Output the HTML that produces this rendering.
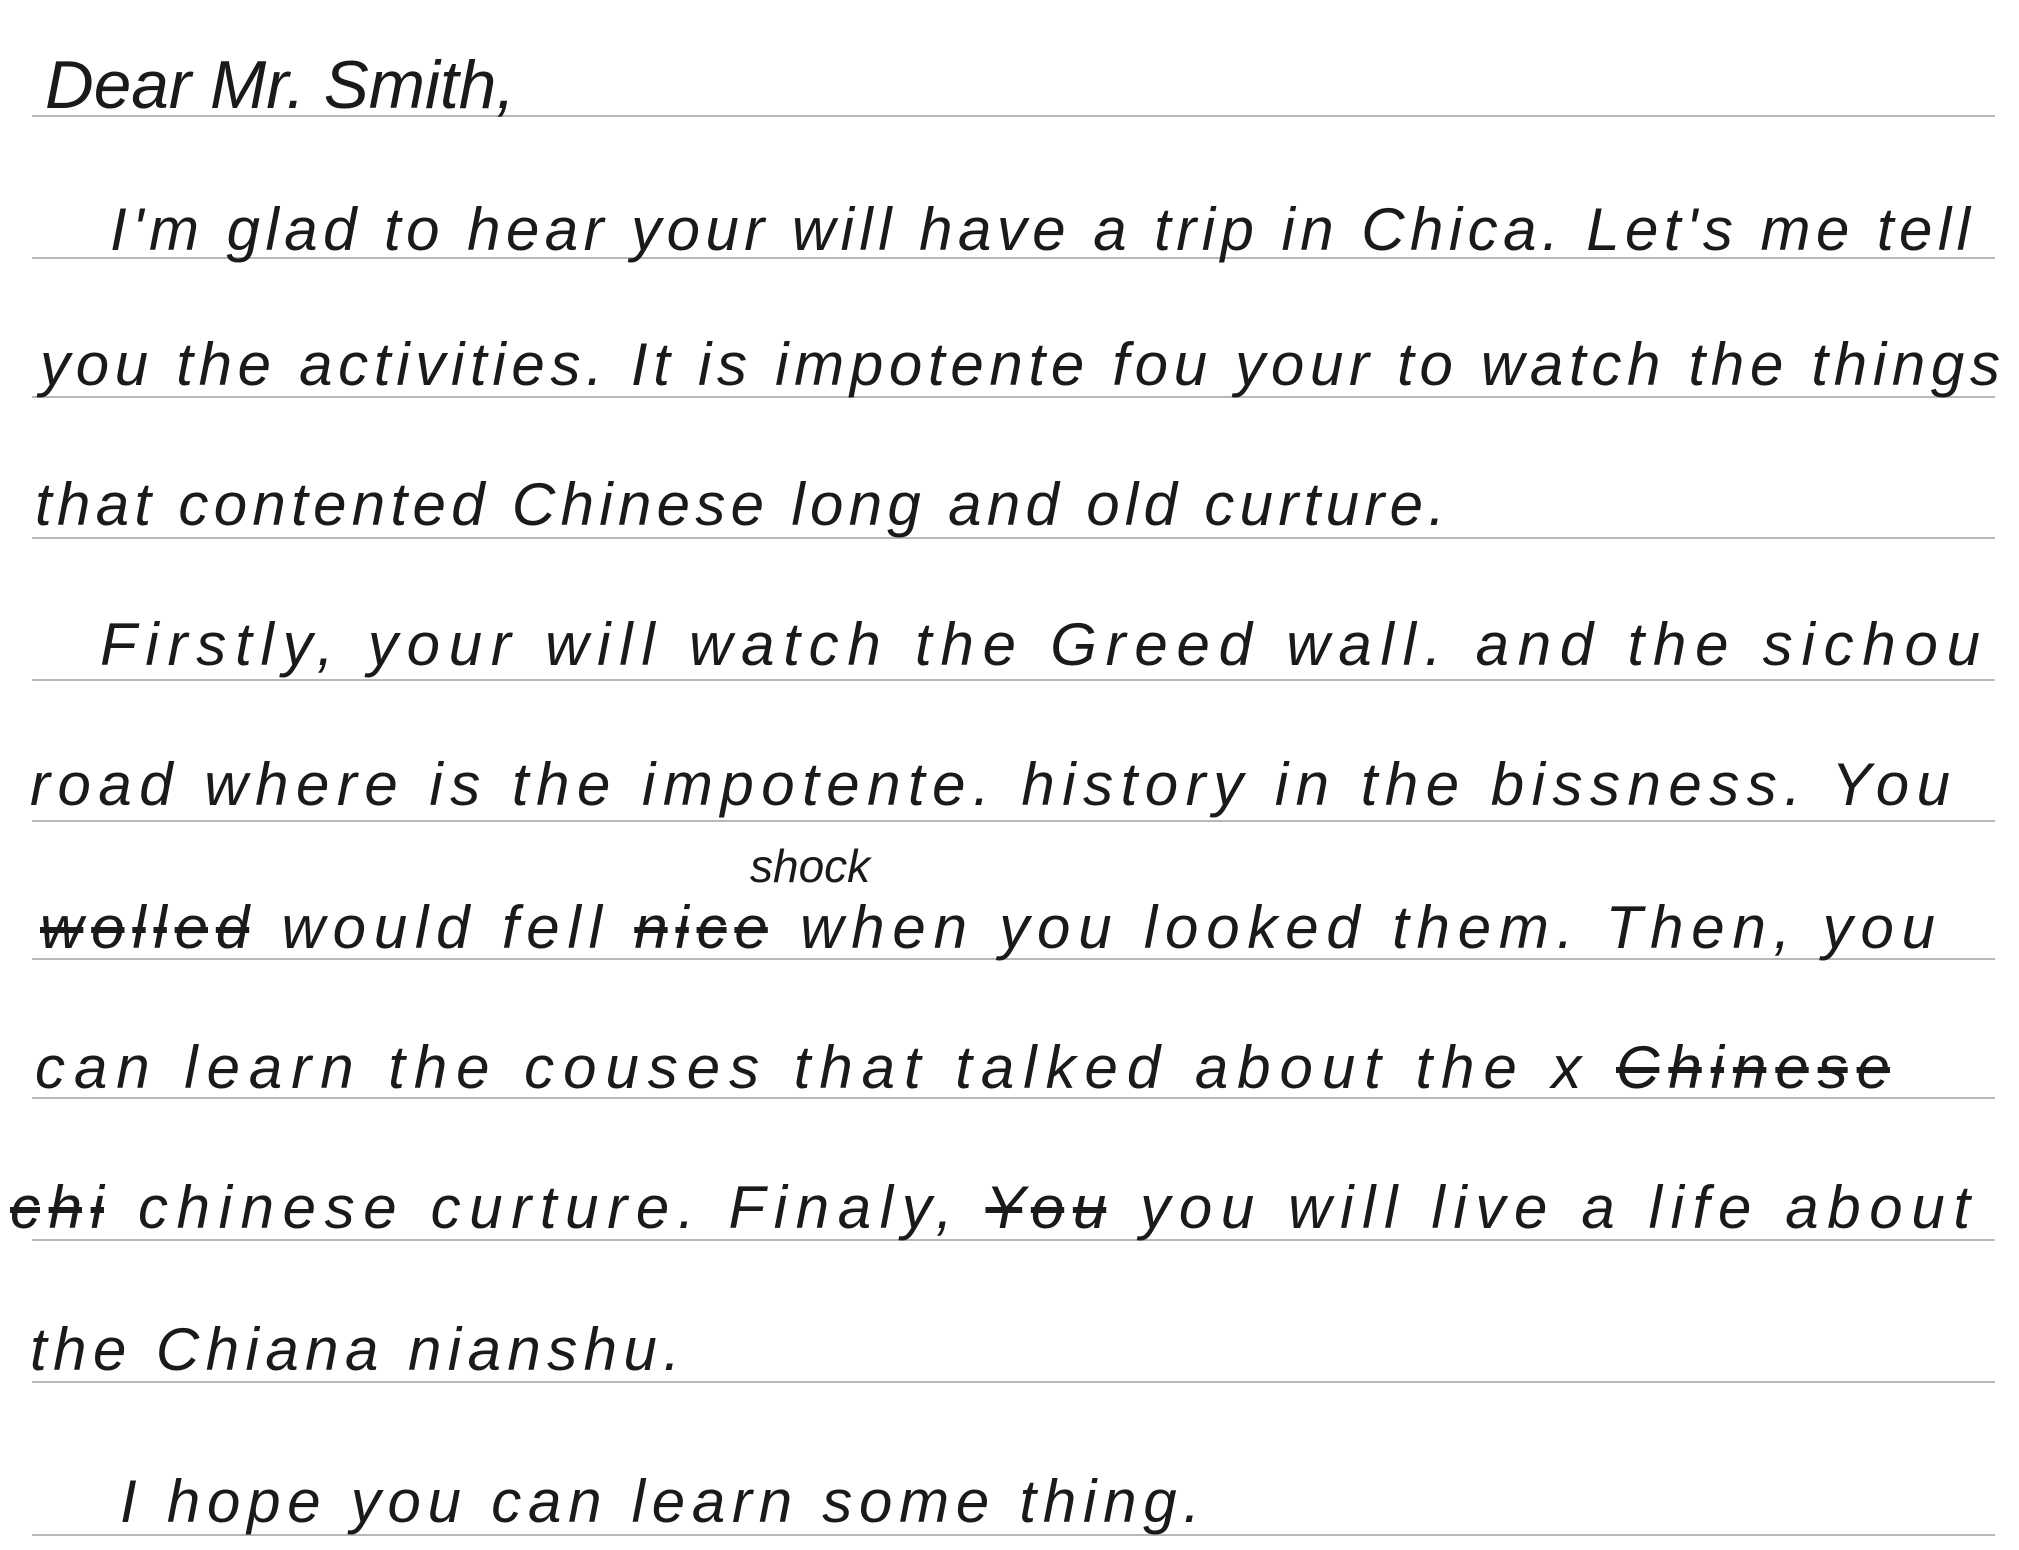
<!DOCTYPE html>
<html><head><meta charset="utf-8"><style>
html,body{margin:0;padding:0;background:#fff;}
svg{display:block;}
text{font-family:"Liberation Sans",sans-serif;font-style:italic;font-size:60px;fill:#1a1a1a;}
.s{text-decoration:line-through;}
</style></head><body>
<svg width="2019" height="1550" viewBox="0 0 2019 1550">
<g stroke="#b8b8b8" stroke-width="2">
<line x1="32" y1="116" x2="1995" y2="116"/>
<line x1="32" y1="258" x2="1995" y2="258"/>
<line x1="32" y1="397" x2="1995" y2="397"/>
<line x1="32" y1="538" x2="1995" y2="538"/>
<line x1="32" y1="680" x2="1995" y2="680"/>
<line x1="32" y1="821" x2="1995" y2="821"/>
<line x1="32" y1="959" x2="1995" y2="959"/>
<line x1="32" y1="1098" x2="1995" y2="1098"/>
<line x1="32" y1="1240" x2="1995" y2="1240"/>
<line x1="32" y1="1382" x2="1995" y2="1382"/>
<line x1="32" y1="1535" x2="1995" y2="1535"/>
</g>
<text x="45" y="108" textLength="470" lengthAdjust="spacingAndGlyphs" style="font-size:68px">Dear Mr. Smith,</text>
<text x="110" y="250" textLength="1860" lengthAdjust="spacing">I'm glad to hear your will have a trip in Chica. Let's me tell</text>
<text x="40" y="385" textLength="1960" lengthAdjust="spacing">you the activities. It is impotente fou your to watch the things</text>
<text x="35" y="525" textLength="1410" lengthAdjust="spacing">that contented Chinese long and old curture.</text>
<text x="100" y="665" textLength="1880" lengthAdjust="spacing">Firstly, your will watch the Greed wall. and the sichou</text>
<text x="30" y="805" textLength="1920" lengthAdjust="spacing">road where is the impotente. history in the bissness. You</text>
<text x="750" y="882" style="font-size:46px">shock</text>
<text x="40" y="948" textLength="1895" lengthAdjust="spacing"><tspan class="s">wolled</tspan> would fell <tspan class="s">nice</tspan> when you looked them. Then, you</text>
<text x="35" y="1088" textLength="1855" lengthAdjust="spacing">can learn the couses that talked about the x <tspan class="s">Chinese</tspan></text>
<text x="10" y="1228" textLength="1960" lengthAdjust="spacing"><tspan class="s">chi</tspan> chinese curture. Finaly, <tspan class="s">You</tspan> you will live a life about</text>
<text x="30" y="1370" textLength="650" lengthAdjust="spacing">the Chiana nianshu.</text>
<text x="120" y="1522" textLength="1080" lengthAdjust="spacing">I hope you can learn some thing.</text>
</svg>
</body></html>
